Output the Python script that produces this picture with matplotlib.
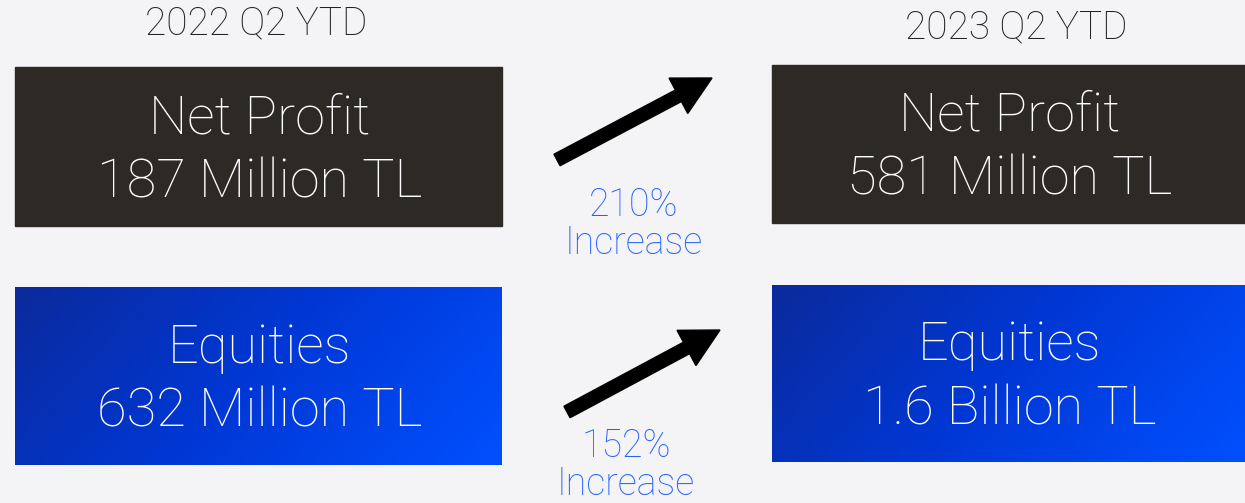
import numpy as np
import matplotlib.pyplot as plt
from matplotlib.patches import Rectangle, FancyArrow
from matplotlib.colors import LinearSegmentedColormap

# data
periods = ['2022 Q2 YTD', '2023 Q2 YTD']
metrics = ['Net Profit', 'Equities']
values_2022 = ['187 Million TL', '632 Million TL']
values_2023 = ['581 Million TL', '1.6 Billion TL']
increases = ['210%', '152%']

W, H = 1245, 503
BG = '#f4f4f6'
DARK = '#2d2a26'
TEXT_BLUE = '#2563ff'
FONT = 'Roboto'
WT = 'light'

fig = plt.figure(figsize=(W / 100, H / 100), dpi=100)
fig.patch.set_facecolor(BG)
ax = fig.add_axes([0, 0, 1, 1])
ax.set_xlim(0, W)
ax.set_ylim(H, 0)
ax.axis('off')

blue_cmap = LinearSegmentedColormap.from_list('b', ['#0b2a9c', '#0038d6', '#0050ff'])


def gradient_box(x0, y0, x1, y1):
    gx, gy = np.meshgrid(np.linspace(0, 1, 200), np.linspace(0, 1, 80))
    g = 0.75 * gx + 0.25 * gy
    ax.imshow(g, cmap=blue_cmap, extent=(x0, x1, y1, y0), aspect='auto',
              interpolation='bicubic', zorder=1)


# box positions (left column, right column) per metric row
left_boxes = [(15, 67, 502, 226), (15, 287, 502, 465)]
right_boxes = [(772, 65, 1245, 223), (772, 285, 1245, 462)]

for i, metric in enumerate(metrics):
    for boxes, vals in [(left_boxes, values_2022), (right_boxes, values_2023)]:
        x0, y0, x1, y1 = boxes[i]
        if i == 0:
            ax.add_patch(Rectangle((x0, y0), x1 - x0, y1 - y0, color=DARK, zorder=1))
        else:
            gradient_box(x0, y0, x1, y1)
        cx = (x0 + x1) / 2 + 1
        cy = (y0 + y1) / 2
        ax.text(cx, cy - 28, metric, color='white', fontsize=39, family=FONT,
                weight=WT, ha='center', va='center', zorder=2)
        ax.text(cx, cy + 36, vals[i], color='white', fontsize=39, family=FONT,
                weight=WT, ha='center', va='center', zorder=2)

# headers
ax.text(256, 24, periods[0], fontsize=28, family=FONT, weight=WT,
        color='#222222', ha='center', va='center')
ax.text(1016, 28, periods[1], fontsize=28, family=FONT, weight=WT,
        color='#222222', ha='center', va='center')

# arrows and increase labels
arrows = [((557, 160), (712, 78)), ((567, 412), (720, 330))]
label_pos = [(634, 205), (626, 446)]
for (s, e), (lx, ly), inc in zip(arrows, label_pos, increases):
    ax.add_patch(FancyArrow(s[0], s[1], e[0] - s[0], e[1] - s[1], width=13,
                            head_width=40, head_length=38,
                            length_includes_head=True, color='black', zorder=3))
    ax.text(lx, ly, inc, fontsize=27, family=FONT, weight=WT,
            color=TEXT_BLUE, ha='center', va='center')
    ax.text(lx, ly + 38, 'Increase', fontsize=27, family=FONT, weight=WT,
            color=TEXT_BLUE, ha='center', va='center')

fig.savefig('out.png', dpi=100, facecolor=BG)
